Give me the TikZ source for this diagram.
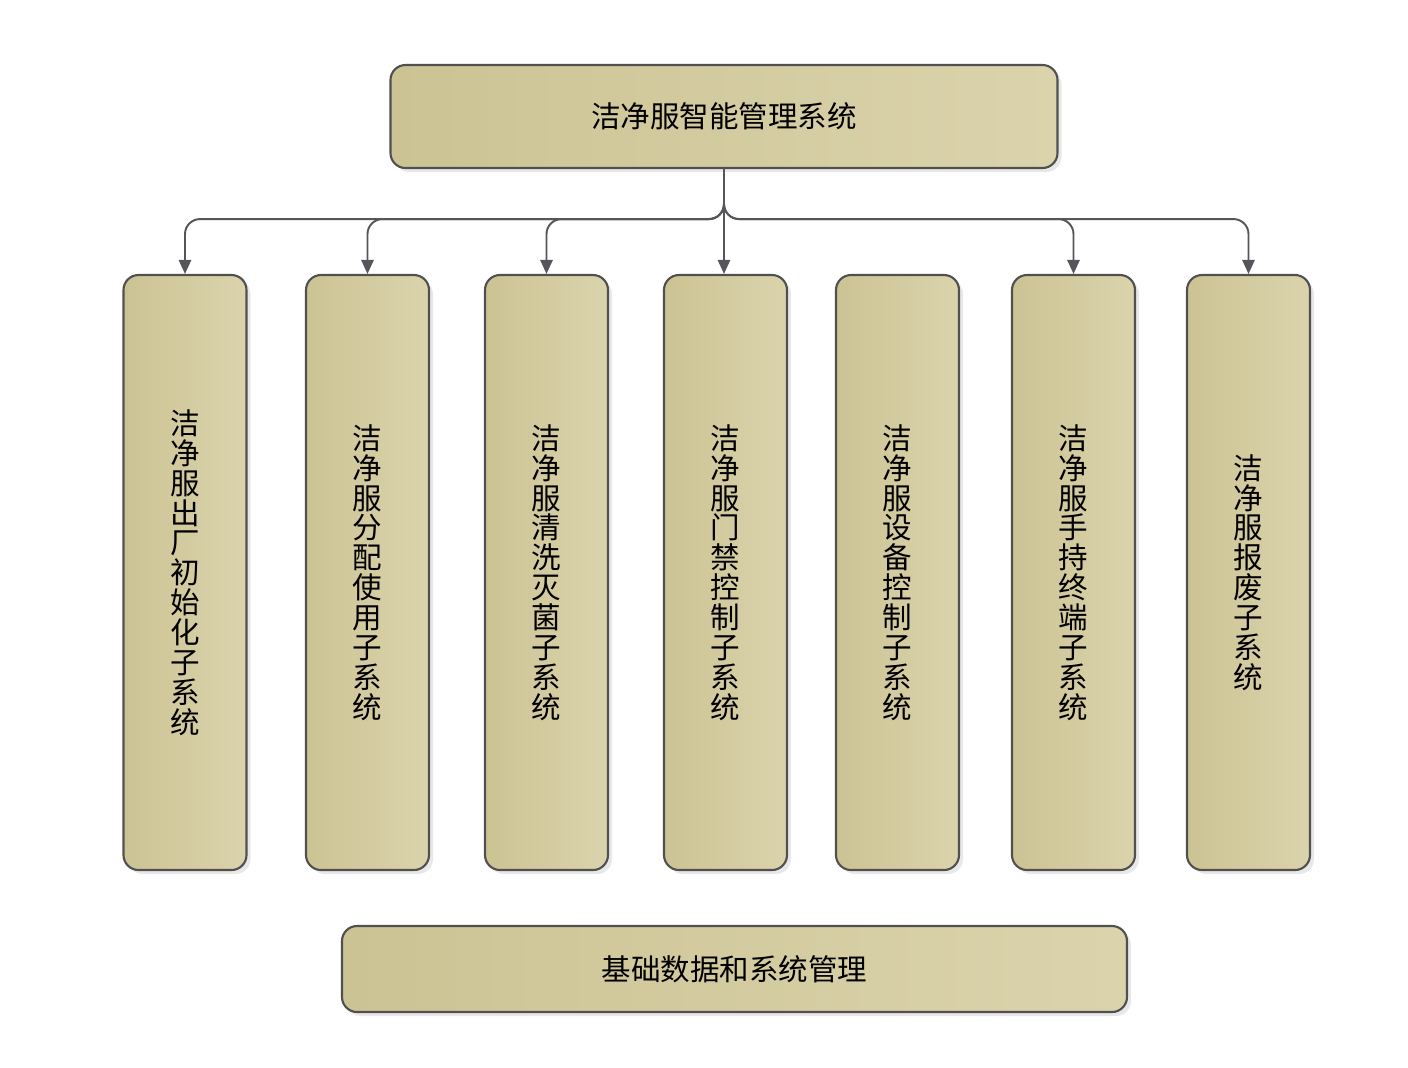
\documentclass[tikz,border=0pt]{standalone}
\usepackage{fontspec}
\newfontfamily\cjk{Noto Sans CJK SC}
\usetikzlibrary{arrows.meta,shadows,calc}
\definecolor{khakiA}{RGB}{204,195,148}
\definecolor{khakiB}{RGB}{219,211,172}
\definecolor{edgegray}{RGB}{80,80,80}
\definecolor{linegray}{RGB}{85,85,90}
\begin{document}
\begin{tikzpicture}
[
 inner sep=0.5mm,
 every node/.style={font=\cjk\fontsize{8.4}{8.5}\selectfont},
 BOX/.style={rectangle, rounded corners=0.15cm, draw=edgegray, line width=0.6pt,
             left color=khakiA, right color=khakiB,
             drop shadow={shadow xshift=0.04cm, shadow yshift=-0.04cm, fill=black!18}},
 TOPBOX/.style={BOX, minimum width=6.67cm, minimum height=1.03cm},
 SUBBOX/.style={BOX, minimum width=1.23cm, minimum height=5.95cm, align=center},
 BASEBOX/.style={BOX, minimum width=7.85cm, minimum height=0.86cm},
 ARROW/.style={draw=linegray, line width=0.55pt, rounded corners=0.15cm,
               -{Triangle[width=3.5pt,length=4pt]}},
 ]
%
\useasboundingbox (0,0) rectangle (14.08,-10.67);
%
\node [TOPBOX]  (TOP)   at ( 7.240, -1.165)  {洁净服智能管理系统};
%
\node [SUBBOX]  (C1)    at ( 1.850, -5.725)  {洁\\净\\服\\出\\厂\\初\\始\\化\\子\\系\\统};
\node [SUBBOX]  (C2)    at ( 3.675, -5.725)  {洁\\净\\服\\分\\配\\使\\用\\子\\系\\统};
\node [SUBBOX]  (C3)    at ( 5.465, -5.725)  {洁\\净\\服\\清\\洗\\灭\\菌\\子\\系\\统};
\node [SUBBOX]  (C4)    at ( 7.255, -5.725)  {洁\\净\\服\\门\\禁\\控\\制\\子\\系\\统};
\node [SUBBOX]  (C5)    at ( 8.975, -5.725)  {洁\\净\\服\\设\\备\\控\\制\\子\\系\\统};
\node [SUBBOX]  (C6)    at (10.735, -5.725)  {洁\\净\\服\\手\\持\\终\\端\\子\\系\\统};
\node [SUBBOX]  (C7)    at (12.485, -5.725)  {洁\\净\\服\\报\\废\\子\\系\\统};
%
\node [BASEBOX] (BASE)  at ( 7.345, -9.690)  {基础数据和系统管理};
%
\coordinate (BUS) at ($(TOP.south)+(0,-0.5)$);
%
\foreach \c in {C1,C2,C3,C6,C7}
   {
     \draw [ARROW]  (TOP.south) -- (TOP.south |- BUS) -| (\c.north);
   }
\draw [ARROW]  (TOP.south) -- (TOP.south |- C4.north);
%
\end{tikzpicture}
\end{document}
